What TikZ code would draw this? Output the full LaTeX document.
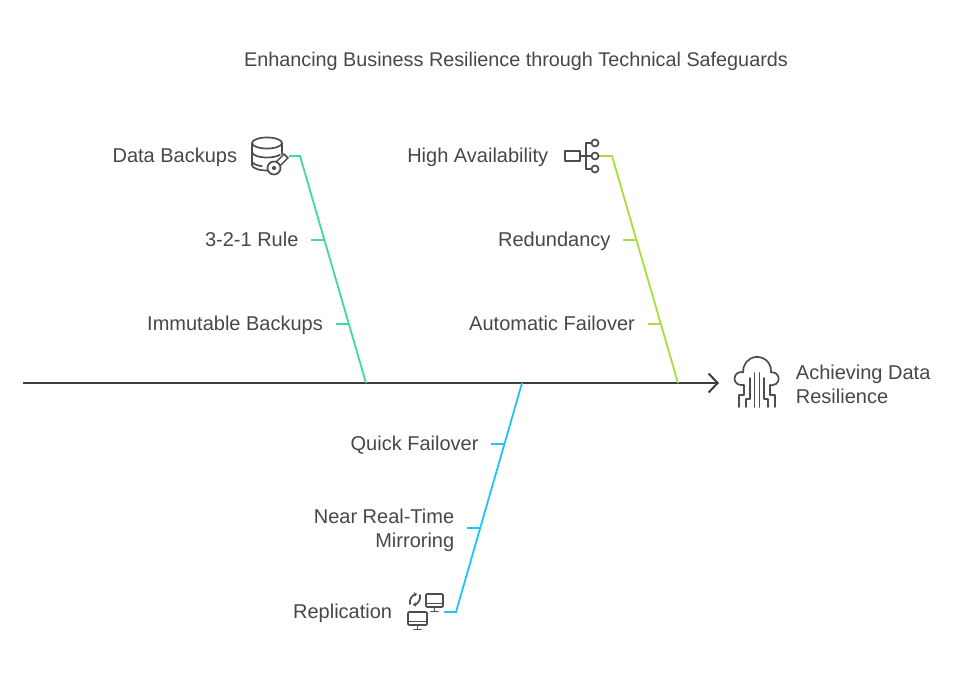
\documentclass[tikz,border=0pt]{standalone}
\usepackage{fontspec}
\setmainfont{Liberation Sans}
\usepackage{tikz}
\usetikzlibrary{calc}
\usetikzlibrary{arrows.meta}

\definecolor{txtgray}{HTML}{474747}
\definecolor{spinegray}{HTML}{3E3E3E}
\definecolor{icongray}{HTML}{4D4D4D}
\definecolor{backupgreen}{HTML}{3DDC97}
\definecolor{availlime}{HTML}{A5DF37}
\definecolor{replblue}{HTML}{1EC3FF}

\begin{document}
\begin{tikzpicture}[x=1pt, y=1pt, line width=1.8pt,
  lbl/.style={text=txtgray, font=\fontsize{20}{24}\selectfont, inner sep=0, text height=14pt, text depth=0pt},
  multi/.style={text=txtgray, font=\fontsize{20}{24}\selectfont, inner sep=0},
  ribtxt/.style={lbl, anchor=east, outer xsep=13pt},
  icon/.style={draw=icongray, line width=1.7pt, line cap=round, line join=round}]
\useasboundingbox (0,0) rectangle (960,678);
\node[text=txtgray, font=\fontsize{19.8}{24}\selectfont, inner sep=0] (title) at (516,617) {Enhancing Business Resilience through Technical Safeguards};
% spine
\coordinate (tail) at (23,295);
\coordinate (head) at (719,295);
\draw[spinegray, line width=2pt, -{Straight Barb[length=9pt,width=19pt,line width=2pt]}] (tail) -- (head);
% backups
\coordinate (gknee) at (300,522); \coordinate (gfoot) at (366,295); \coordinate (dbicon) at (289,522);
\node[lbl, anchor=east] (backups) at (238,522) {Data Backups};
\draw[backupgreen] (dbicon) -- (gknee) -- (gfoot);
\foreach \t/\nm/\txt in {0.370/rule/{3-2-1 Rule}, 0.740/immut/{Immutable Backups}} {
  \coordinate (\nm-on) at ($(gknee)!\t!(gfoot)$);
  \node[ribtxt] (\nm) at ($(\nm-on)+(-13,0)$) {\txt};
  \draw[backupgreen] (\nm-on) -- (\nm.east);
}
% availability
\coordinate (lknee) at (612,522); \coordinate (lfoot) at (678,295); \coordinate (hiicon) at (599,522);
\node[lbl, anchor=east] (avail) at (549,522) {High Availability};
\draw[availlime] (hiicon) -- (lknee) -- (lfoot);
\foreach \t/\nm/\txt in {0.370/redund/{Redundancy}, 0.740/autofail/{Automatic Failover}} {
  \coordinate (\nm-on) at ($(lknee)!\t!(lfoot)$);
  \node[ribtxt] (\nm) at ($(\nm-on)+(-13,0)$) {\txt};
  \draw[availlime] (\nm-on) -- (\nm.east);
}
% replication
\coordinate (btop) at (522,295); \coordinate (bknee) at (456,66); \coordinate (monicon) at (444,66);
\node[lbl, anchor=east] (repl) at (393,67) {Replication};
\draw[replblue] (btop) -- (bknee) -- (monicon);
\coordinate (quick-on) at ($(btop)!0.266!(bknee)$);
\node[ribtxt] (quick) at ($(quick-on)+(-13,0)$) {Quick Failover};
\draw[replblue] (quick-on) -- (quick.east);
\coordinate (mirror-on) at ($(btop)!0.633!(bknee)$);
\node[multi, align=right, anchor=east, outer xsep=13pt, yshift=-2.2pt] (mirror) at ($(mirror-on)+(-13,0)$) {Near Real-Time\\Mirroring};
\draw[replblue] (mirror-on) -- ([yshift=2.2pt]mirror.east);
% outcome
\node[multi, align=left, anchor=west] (goal) at (795,294) {Achieving Data\\Resilience};
% database + key
\draw[icon] (267,535) ellipse[x radius=15, y radius=5.5];
\draw[icon] (252,535) -- (252,513) arc[start angle=180, end angle=300, x radius=15, y radius=5.5];
\draw[icon] (282,535) -- (282,524);
\draw[icon] (252,526) arc[start angle=180, end angle=330, x radius=15, y radius=5.5];
\draw[icon] (252,517) arc[start angle=180, end angle=250, x radius=15, y radius=5.5];
\draw[icongray, line width=7pt] (274,510) -- (286.5,522.5);
\draw[white, line width=3.6pt] (274,510) -- (285.3,521.3);
\draw[icon, fill=white] (274,510) circle[radius=6.5];
\draw[icon, fill=icongray] (274,510) circle[radius=1.4];
% hierarchy
\draw[icon] (565,517) rectangle (580,527);
\draw[icon] (580,522) -- (586,522) (586,509) -- (586,535);
\foreach \yy in {509,522,535} {
  \draw[icon] (586,\yy) -- (591.5,\yy);
  \draw[icon] (595,\yy) circle[radius=3.5];
}
% cloud
\draw[icon] (739,271) -- (739,283) -- (744,283) -- (744,293) -- (741,293)
  arc[start angle=270, end angle=70, radius=6.5] arc[start angle=186, end angle=-6, radius=14]
  arc[start angle=100, end angle=-90, radius=6.5] -- (770,293) -- (770,283) -- (775,283) -- (775,271);
\draw[icon] (746,271) -- (746,279) -- (750,279) -- (750,300);
\draw[icon] (768,271) -- (768,279) -- (764,279) -- (764,300);
\draw[icon] (754.5,271) -- (754.5,305) (759.5,271) -- (759.5,305);
% monitors
\draw[icon, rounded corners=1pt] (426,71) rectangle (443,84);
\draw[icon] (426,74.5) -- (443,74.5) (434.5,71) -- (434.5,67) (431,66.5) -- (438,66.5);
\draw[icon, rounded corners=1pt] (408,53) rectangle (427,66);
\draw[icon] (408,56.5) -- (427,56.5) (417.5,53) -- (417.5,49) (414,48.5) -- (421,48.5);
\draw[icon, -{Stealth[length=3pt,width=5pt]}] (410,74) to[bend left=45] (417,84);
\draw[icon, -{Stealth[length=3pt,width=5pt]}] (420,83) to[bend left=45] (413,73);
\end{tikzpicture}
\end{document}
